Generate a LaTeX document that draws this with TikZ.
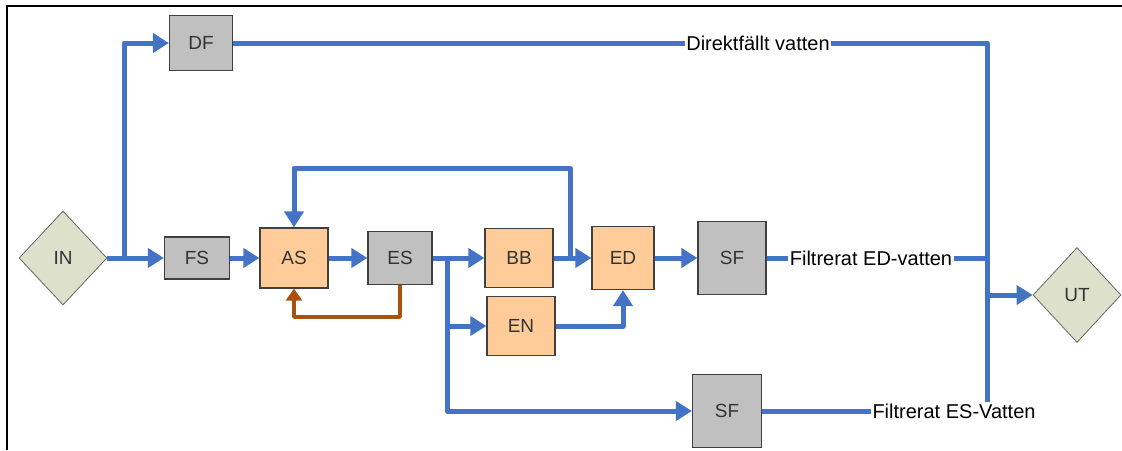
\documentclass[tikz,border=0pt]{standalone}
\usepackage{fontspec}
\setmainfont{Liberation Sans}
\usetikzlibrary{arrows.meta,shapes.geometric}
\definecolor{flowblue}{HTML}{4472C4}
\definecolor{flowbrown}{HTML}{A8520F}
\definecolor{boxgray}{HTML}{C0C0C0}
\definecolor{boxorange}{HTML}{FFCC99}
\definecolor{diamondfill}{HTML}{DDE0CB}
\definecolor{edgegray}{HTML}{404040}
\begin{document}
\begin{tikzpicture}[x=1pt,y=-1pt,
  box/.style={draw=edgegray,line width=1.2pt,fill=boxgray,text=black!80,
    font=\fontsize{19}{21}\selectfont,inner sep=0pt},
  obox/.style={box,fill=boxorange},
  term/.style={diamond,draw=black!60,line width=0.8pt,fill=diamondfill,
    text=black!80,font=\fontsize{19}{21}\selectfont,inner sep=0pt},
  lab/.style={fill=white,inner sep=1.5pt,font=\fontsize{20}{22}\selectfont},
  line/.style={draw=flowblue,line width=5pt,line join=round},
  flow/.style={line,-{Triangle[length=16pt,width=19pt]}},
  bflow/.style={draw=flowbrown,line width=3.5pt,line join=round,
    -{Triangle[length=12pt,width=16pt]}}]
\useasboundingbox (0,0) rectangle (1122,450);
% frame
\draw[line width=1.2pt] (7,450) -- (7,6) -- (1122,6);
% nodes
\node[term,minimum width=88pt,minimum height=94pt] (IN) at (63,258) {IN};
\node[term,minimum width=88pt,minimum height=95pt] (UT) at (1077,295) {UT};
\node[box,minimum width=63pt,minimum height=55pt] (DF) at (201,43) {DF};
\node[box,minimum width=65pt,minimum height=42pt] (FS) at (197,258) {FS};
\node[obox,minimum width=68pt,minimum height=60pt] (AS) at (294,258) {AS};
\node[box,minimum width=64pt,minimum height=53pt] (ES) at (400,258) {ES};
\node[obox,minimum width=68pt,minimum height=59pt] (BB) at (519,258) {BB};
\node[obox,minimum width=68pt,minimum height=59pt] (EN) at (521,326) {EN};
\node[obox,minimum width=62pt,minimum height=63pt] (ED) at (623,258) {ED};
\node[box,minimum width=68pt,minimum height=73pt] (SF1) at (732,258) {SF};
\node[box,minimum width=69pt,minimum height=73pt] (SF2) at (727,411) {SF};
\node[lab] (dflab) at (758,43) {Direktfällt vatten};
\node[lab] (edlab) at (871,258) {Filtrerat ED-vatten};
\node[lab] (eslab) at (954,411) {Filtrerat ES-Vatten};
% junctions
\coordinate (j1) at (124,258);
\coordinate (j2) at (987,295);
\coordinate (j3) at (447,258);
\coordinate (j4) at (570,258);
\coordinate (loop) at (570,168);
\coordinate (b1) at (400,317);
% connectors
\draw[flow] (IN.east) -- (FS.west);
\draw[flow] (j1) |- (DF.west);
\draw[flow] (FS.east) -- (AS.west);
\draw[flow] (AS.east) -- (ES.west);
\draw[flow] (ES.east) -- (BB.west);
\draw[flow] (j3) |- (EN.west);
\draw[flow] (j3) |- (SF2.west);
\draw[flow] (BB.east) -- (ED.west);
\draw[flow] (j4) -- (loop) -| (AS.north);
\draw[flow] (EN.east) -| (ED.south);
\draw[flow] (ED.east) -- (SF1.west);
\draw[bflow] (ES.south) -- (b1) -| (AS.south);
\draw[line] (DF.east) -- (dflab.west);
\draw[line] (dflab.east) -| (j2);
\draw[line] (SF1.east) -- (edlab.west);
\draw[line] (edlab.east) -- (edlab.east -| j2);
\draw[line] (SF2.east) -- (eslab.west);
\draw[line] (eslab.north -| j2) -- (j2);
\draw[flow] (j2) -- (UT.west);
\end{tikzpicture}
\end{document}
